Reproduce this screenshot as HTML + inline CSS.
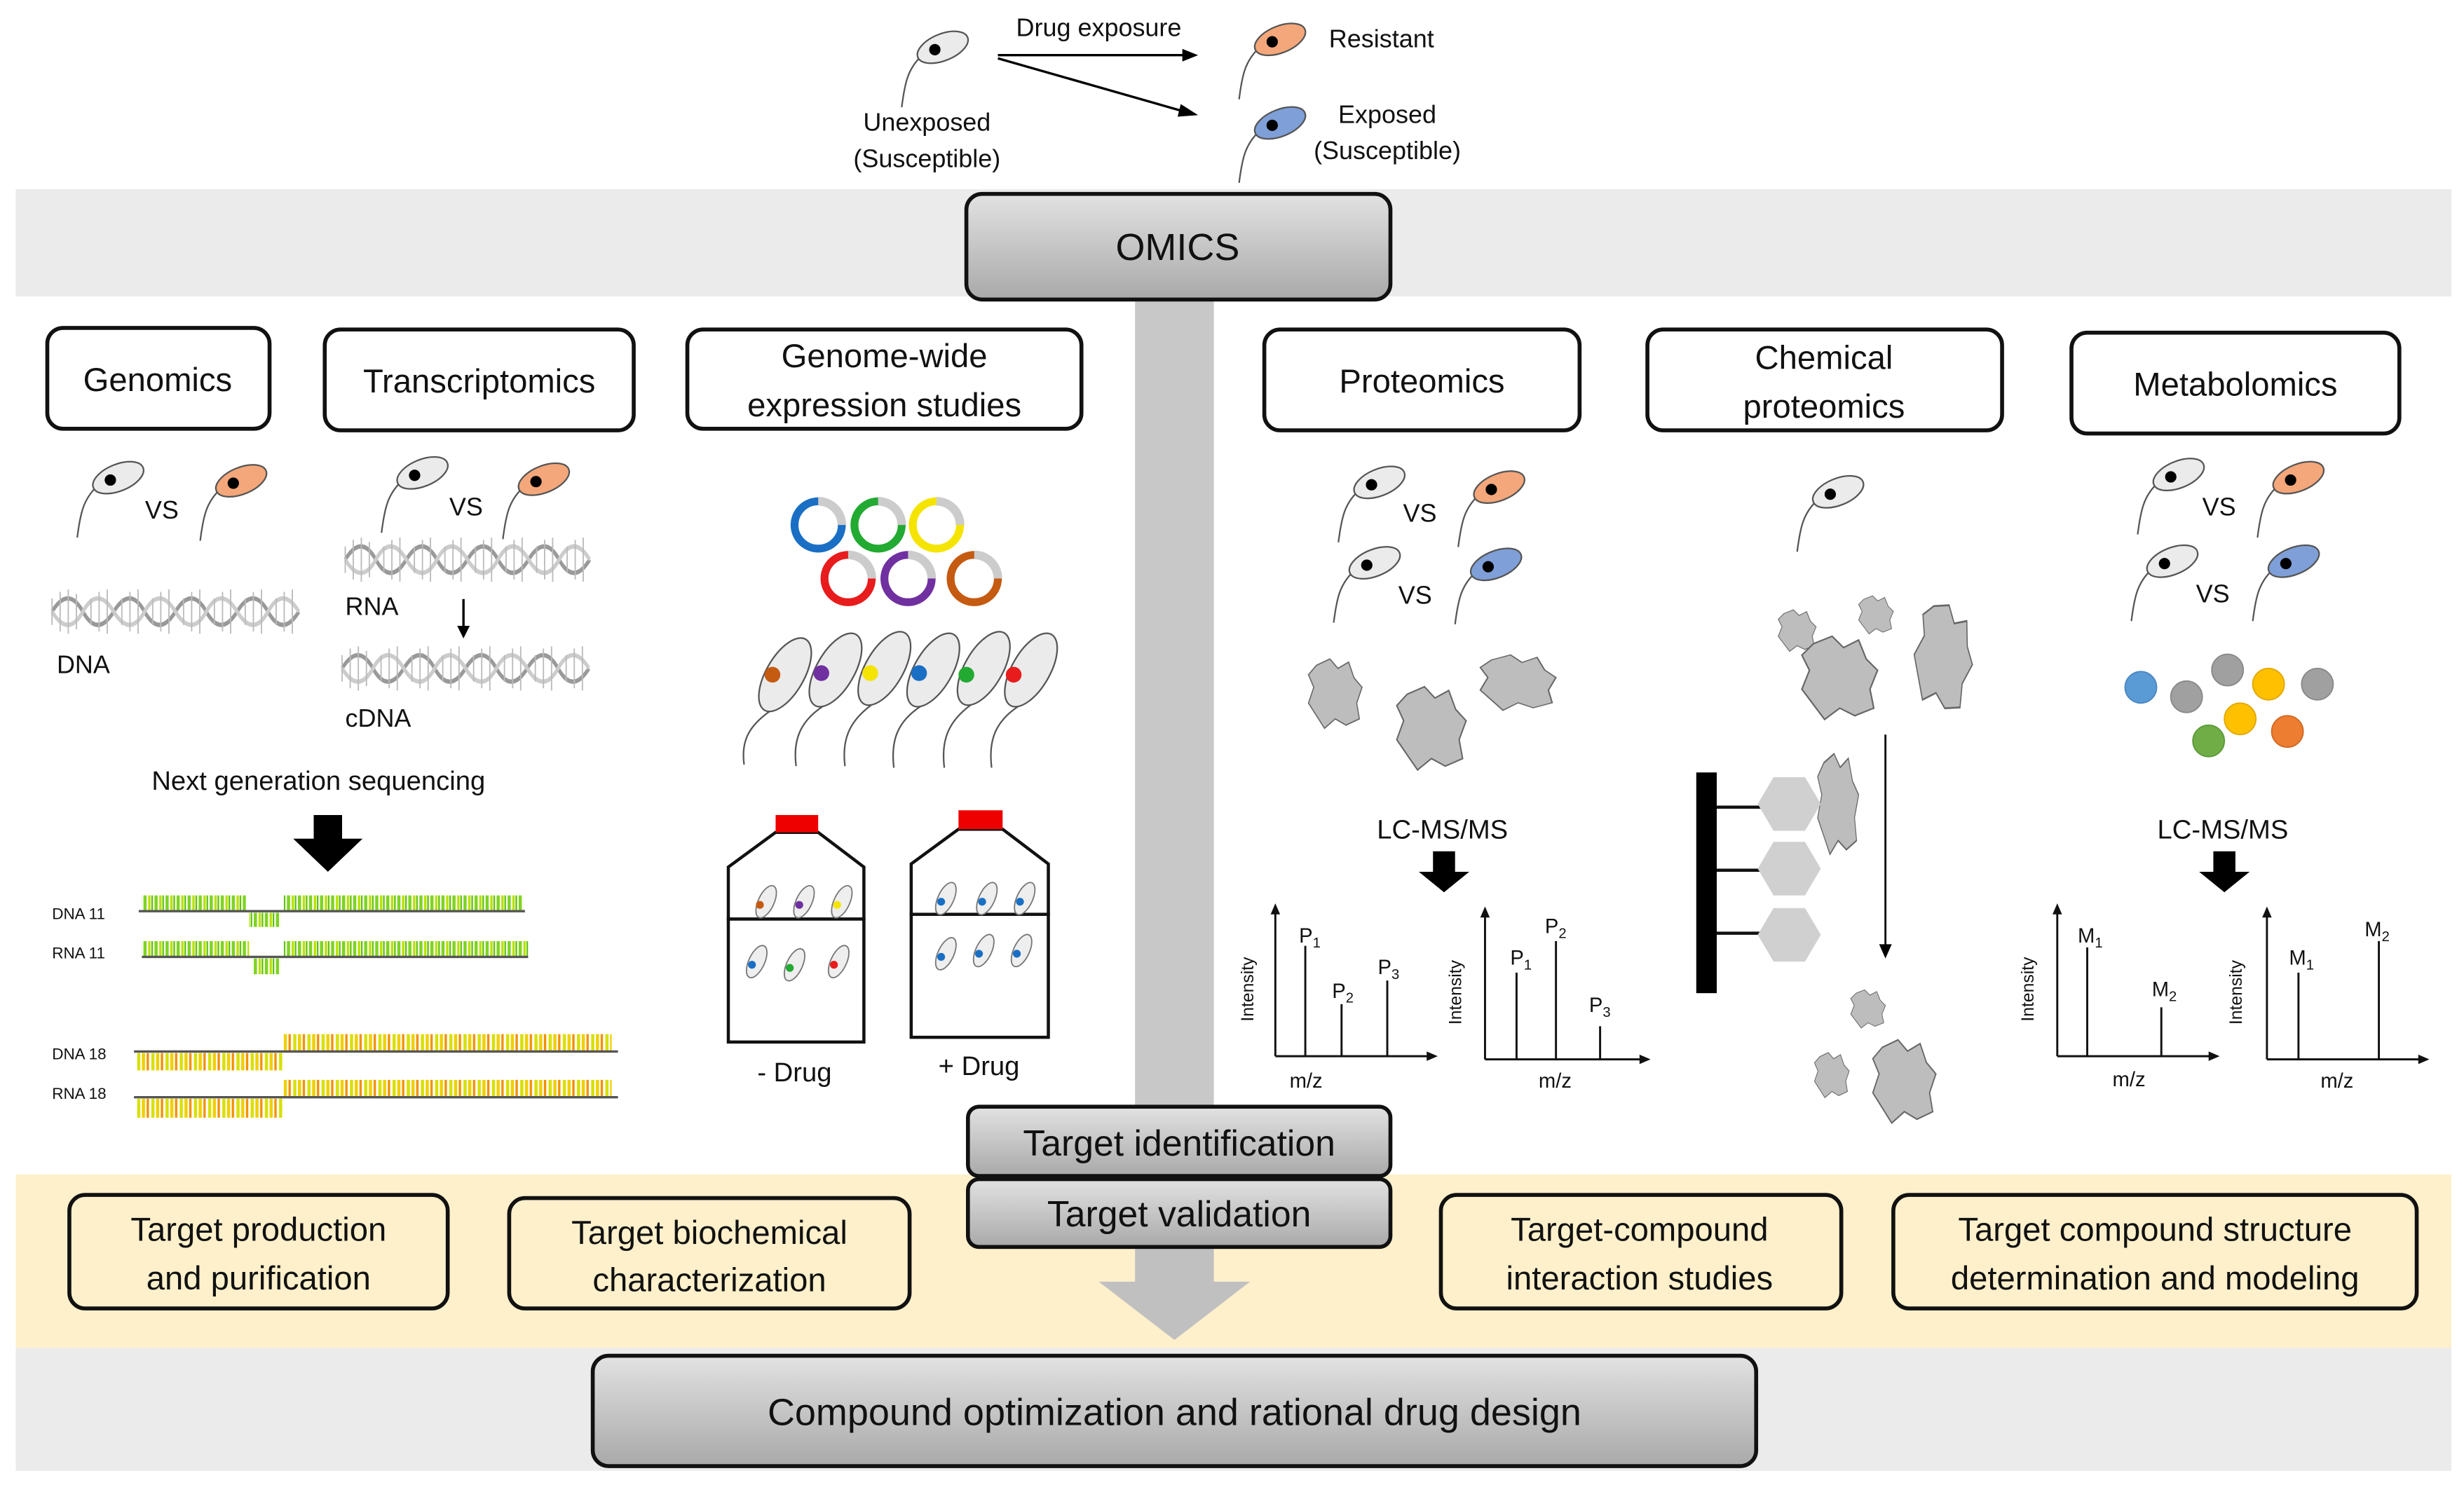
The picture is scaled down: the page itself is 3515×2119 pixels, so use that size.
<!DOCTYPE html>
<html><head><meta charset="utf-8"><style>html,body{margin:0;padding:0;background:#fff}svg{display:block}text{font-family:"Liberation Sans",sans-serif;fill:#111}</style></head>
<body>
<svg width="3515" height="2119" viewBox="0 0 1563 942" preserveAspectRatio="none" xmlns="http://www.w3.org/2000/svg">
<defs>
<linearGradient id="g" x1="0" y1="0" x2="0" y2="1"><stop offset="0" stop-color="#e2e2e2"/><stop offset="1" stop-color="#a9a9a9"/></linearGradient>
<g id="c"><path d="M-14,6 C-22,14 -24,22 -26,38" fill="none" stroke="#555" stroke-width="1"/><ellipse cx="0" cy="0" rx="17" ry="8.5" transform="rotate(-22)" stroke="#555" stroke-width="1"/><circle cx="-5" cy="1.5" r="3.6" fill="#000"/></g>
<g id="hel"><path d="M0,0 q10,-12 19,0 t19,0 t19,0 t19,0 t19,0 t19,0 t19,0 t19,0" fill="none" stroke="#999" stroke-width="2"/><path d="M0,0 q10,12 19,0 t19,0 t19,0 t19,0 t19,0 t19,0 t19,0 t19,0" fill="none" stroke="#ccc" stroke-width="2"/><path d="M0,-6 V6 M5,-9V9 M10,-10V10 M15,-8V8 M24,-6V6 M29,-9V9 M34,-10V10 M43,-6V6 M48,-9V9 M53,-10V10 M62,-6V6 M67,-9V9 M72,-10V10 M81,-6V6 M86,-9V9 M91,-10V10 M100,-6V6 M105,-9V9 M110,-10V10 M119,-6V6 M124,-9V9 M129,-10V10 M138,-6V6 M143,-9V9 M148,-10V10" stroke="#bbb" stroke-width="0.8"/></g>
<pattern id="gr" width="7" height="10" patternUnits="userSpaceOnUse"><rect width="7" height="10" fill="#fff"/><rect x="0" width="2" height="10" fill="#7ed321"/><rect x="3" width="1.5" height="10" fill="#b8e000"/><rect x="5" width="1" height="10" fill="#5cc000"/></pattern>
<pattern id="yl" width="9" height="10" patternUnits="userSpaceOnUse"><rect width="9" height="10" fill="#fff"/><rect x="0" width="2" height="10" fill="#f0d000"/><rect x="3" width="1.5" height="10" fill="#f29000"/><rect x="6" width="2" height="10" fill="#d8e000"/></pattern>
<path id="blob" d="M-14,-18 L-4,-22 L2,-16 L10,-20 L14,-10 L20,-4 L16,6 L18,16 L8,20 L0,16 L-8,22 L-14,14 L-20,6 L-16,-4 L-20,-12 Z"/>
</defs>

<rect x="10" y="120" width="1545" height="68" fill="#ebebeb"/>
<rect x="720" y="188" width="50" height="520" fill="#c8c8c8"/>
<rect x="10" y="745" width="1545" height="110" fill="#fdf0cb"/>
<rect x="10" y="855" width="1545" height="78" fill="#ebebeb"/>
<rect x="720" y="790" width="50" height="25" fill="#c0c0c0"/>
<path d="M697,813 L793,813 L745,850 Z" fill="#c0c0c0"/>

<use href="#c" x="598" y="30" fill="#ebebeb"/>
<use href="#c" x="812" y="25" fill="#f4a77a"/>
<use href="#c" x="812" y="78" fill="#7f9fd8"/>
<path d="M633,35 L752,35 M633,37 L752,71" stroke="#000" stroke-width="1.5"/>
<path d="M760,35 L750,31 L750,39Z M760,73 L749,66 L747,74Z"/>
<text x="697" y="23" font-size="16" text-anchor="middle">Drug exposure</text>
<text x="843" y="30" font-size="16">Resistant</text>
<text x="880" y="78" font-size="16" text-anchor="middle">Exposed</text>
<text x="880" y="101" font-size="16" text-anchor="middle">(Susceptible)</text>
<text x="588" y="83" font-size="16" text-anchor="middle">Unexposed</text>
<text x="588" y="106" font-size="16" text-anchor="middle">(Susceptible)</text>

<rect x="613" y="123" width="269" height="67" rx="10" fill="url(#g)" stroke="#111" stroke-width="2.5"/>
<text x="747" y="165" font-size="24" text-anchor="middle">OMICS</text>

<g fill="#fff" stroke="#111" stroke-width="2.5">
<rect x="30" y="208" width="141" height="64" rx="10"/>
<rect x="206" y="209" width="196" height="64" rx="10"/>
<rect x="436" y="209" width="250" height="63" rx="10"/>
<rect x="802" y="209" width="200" height="64" rx="10"/>
<rect x="1045" y="209" width="225" height="64" rx="10"/>
<rect x="1314" y="211" width="208" height="64" rx="10"/>
</g>
<g font-size="21" text-anchor="middle">
<text x="100" y="248">Genomics</text>
<text x="304" y="249">Transcriptomics</text>
<text x="561" y="233">Genome-wide</text>
<text x="561" y="264">expression studies</text>
<text x="902" y="249">Proteomics</text>
<text x="1157" y="234">Chemical</text>
<text x="1157" y="265">proteomics</text>
<text x="1418" y="251">Metabolomics</text>
</g>

<use href="#c" x="75" y="303" fill="#ebebeb"/><use href="#c" x="153" y="305" fill="#f4a77a"/>
<text x="92" y="329" font-size="16">VS</text>
<use href="#c" x="268" y="300" fill="#ebebeb"/><use href="#c" x="345" y="304" fill="#f4a77a"/>
<text x="285" y="327" font-size="16">VS</text>
<use href="#hel" transform="translate(33,388) scale(1.03,1.4)"/>
<text x="36" y="427" font-size="16">DNA</text>
<use href="#hel" transform="translate(219,355) scale(1.02,1.4)"/>
<text x="219" y="390" font-size="16">RNA</text>
<path d="M294,380 V398" stroke="#000" stroke-width="1.5"/><path d="M290,397 L298,397 L294,405Z"/>
<use href="#hel" transform="translate(217,424) scale(1.03,1.4)"/>
<text x="219" y="461" font-size="16">cDNA</text>
<text x="202" y="501" font-size="17" text-anchor="middle">Next generation sequencing</text>
<path d="M199,517 H217 V532 H230 L208,553 L186,532 H199Z"/>

<g font-size="10" fill="#333">
<text x="33" y="583">DNA 11</text><text x="33" y="608">RNA 11</text>
<text x="33" y="672">DNA 18</text><text x="33" y="697">RNA 18</text>
</g>
<rect x="90" y="568" width="66" height="10" fill="url(#gr)"/><rect x="180" y="568" width="152" height="10" fill="url(#gr)"/><rect x="158" y="579" width="20" height="9" fill="url(#gr)"/>
<rect x="90" y="597" width="68" height="10" fill="url(#gr)"/><rect x="180" y="597" width="155" height="10" fill="url(#gr)"/><rect x="160" y="608" width="18" height="10" fill="url(#gr)"/>
<path d="M88,578 H333 M90,607 H335" stroke="#555" stroke-width="1.5"/>
<rect x="180" y="656" width="208" height="11" fill="url(#yl)"/><rect x="87" y="668" width="93" height="11" fill="url(#yl)"/>
<rect x="180" y="685" width="208" height="11" fill="url(#yl)"/><rect x="87" y="697" width="93" height="12" fill="url(#yl)"/>
<path d="M85,667 H392 M85,696 H392" stroke="#555" stroke-width="1.5"/>

<g fill="none" stroke-width="5">
<circle cx="519" cy="333" r="15" stroke="#1a6fc4"/><circle cx="557" cy="333" r="15" stroke="#22aa33"/><circle cx="594" cy="333" r="15" stroke="#f5e400"/>
<circle cx="538" cy="367" r="15" stroke="#e81c1c"/><circle cx="576" cy="367" r="15" stroke="#7030a0"/><circle cx="618" cy="367" r="15" stroke="#c55a11"/>
</g>
<g fill="none" stroke="#ccc" stroke-width="5.5">
<path d="M519,318 A15,15 0 0 1 534,333"/><path d="M557,318 A15,15 0 0 1 572,333"/><path d="M594,318 A15,15 0 0 1 609,333"/>
<path d="M538,352 A15,15 0 0 1 553,367"/><path d="M576,352 A15,15 0 0 1 591,367"/><path d="M618,352 A15,15 0 0 1 633,367"/>
</g>
<g stroke="#555" stroke-width="1" fill="none">
<path d="M490,450 C475,460 470,470 472,485"/><path d="M522,448 C507,458 503,470 505,486"/><path d="M553,447 C538,458 534,470 536,486"/><path d="M584,448 C569,458 565,470 567,487"/><path d="M616,447 C601,458 597,470 599,487"/><path d="M646,448 C631,458 627,470 629,487"/>
</g>
<g fill="#ebebeb" stroke="#555" stroke-width="1">
<ellipse cx="498" cy="428" rx="12" ry="26" transform="rotate(30 498 428)"/><ellipse cx="530" cy="425" rx="12" ry="26" transform="rotate(30 530 425)"/><ellipse cx="561" cy="424" rx="12" ry="26" transform="rotate(30 561 424)"/><ellipse cx="592" cy="425" rx="12" ry="26" transform="rotate(30 592 425)"/><ellipse cx="624" cy="424" rx="12" ry="26" transform="rotate(30 624 424)"/><ellipse cx="654" cy="425" rx="12" ry="26" transform="rotate(30 654 425)"/>
</g>
<circle cx="490" cy="428" r="5" fill="#c55a11"/><circle cx="521" cy="427" r="5" fill="#7030a0"/><circle cx="552" cy="427" r="5" fill="#f5e400"/><circle cx="583" cy="427" r="5" fill="#1a6fc4"/><circle cx="613" cy="428" r="5" fill="#22aa33"/><circle cx="643" cy="428" r="5" fill="#e81c1c"/>

<g fill="#fff" stroke="#111" stroke-width="2">
<path d="M492,528 H519 L548,550 V583 H462 V550 Z"/><rect x="462" y="583" width="86" height="78"/>
<path d="M608,526 H636 L665,548 V580 H578 V548 Z"/><rect x="578" y="580" width="87" height="78"/>
</g>
<rect x="492" y="517" width="27" height="11" fill="#e00"/><rect x="608" y="514" width="28" height="12" fill="#e00"/>
<g fill="#eee" stroke="#777" stroke-width="0.8">
<ellipse cx="486" cy="572" rx="5" ry="11" transform="rotate(25 486 572)"/><ellipse cx="510" cy="572" rx="5" ry="11" transform="rotate(25 510 572)"/><ellipse cx="534" cy="572" rx="5" ry="11" transform="rotate(25 534 572)"/>
<ellipse cx="480" cy="610" rx="5" ry="11" transform="rotate(25 480 610)"/><ellipse cx="504" cy="612" rx="5" ry="11" transform="rotate(25 504 612)"/><ellipse cx="532" cy="610" rx="5" ry="11" transform="rotate(25 532 610)"/>
<ellipse cx="600" cy="570" rx="5" ry="11" transform="rotate(25 600 570)"/><ellipse cx="626" cy="570" rx="5" ry="11" transform="rotate(25 626 570)"/><ellipse cx="650" cy="570" rx="5" ry="11" transform="rotate(25 650 570)"/>
<ellipse cx="600" cy="605" rx="5" ry="11" transform="rotate(25 600 605)"/><ellipse cx="624" cy="603" rx="5" ry="11" transform="rotate(25 624 603)"/><ellipse cx="648" cy="603" rx="5" ry="11" transform="rotate(25 648 603)"/>
</g>
<circle cx="482" cy="574" r="2.5" fill="#c55a11"/><circle cx="507" cy="574" r="2.5" fill="#7030a0"/><circle cx="531" cy="574" r="2.5" fill="#f5e400"/>
<circle cx="477" cy="612" r="2.5" fill="#1a6fc4"/><circle cx="501" cy="614" r="2.5" fill="#22aa33"/><circle cx="529" cy="612" r="2.5" fill="#e81c1c"/>
<circle cx="597" cy="572" r="2.5" fill="#1a6fc4"/><circle cx="623" cy="572" r="2.5" fill="#1a6fc4"/><circle cx="647" cy="572" r="2.5" fill="#1a6fc4"/>
<circle cx="597" cy="607" r="2.5" fill="#1a6fc4"/><circle cx="621" cy="605" r="2.5" fill="#1a6fc4"/><circle cx="645" cy="605" r="2.5" fill="#1a6fc4"/>
<text x="504" y="686" font-size="17" text-anchor="middle">- Drug</text>
<text x="621" y="682" font-size="17" text-anchor="middle">+ Drug</text>

<use href="#c" x="875" y="306" fill="#ebebeb"/><use href="#c" x="951" y="309" fill="#f4a77a"/>
<text x="890" y="331" font-size="16">VS</text>
<use href="#c" x="872" y="357" fill="#ebebeb"/><use href="#c" x="949" y="358" fill="#7f9fd8"/>
<text x="887" y="383" font-size="16">VS</text>
<g fill="#bdbdbd" stroke="#666" stroke-width="0.8">
<use href="#blob" transform="translate(847,440) scale(0.85,1)"/>
<use href="#blob" transform="translate(908,462) scale(1.1,1.2)"/>
<use href="#blob" transform="translate(963,433) scale(1.2,0.8)"/>
<use href="#blob" transform="translate(1140,400) scale(0.6)"/>
<use href="#blob" transform="translate(1190,390) scale(0.55)"/>
<use href="#blob" transform="translate(1167,430) scale(1.2,1.2)"/>
<use href="#blob" transform="translate(1233,417) scale(0.9,1.5) rotate(20)"/>
<use href="#blob" transform="translate(1166,510) scale(0.65,1.45)"/>
<use href="#blob" transform="translate(1185,640) scale(0.55)"/>
<use href="#blob" transform="translate(1162,682) scale(0.55,0.65)"/>
<use href="#blob" transform="translate(1208,686) scale(1,1.2)"/>
</g>
<text x="915" y="532" font-size="17" text-anchor="middle">LC-MS/MS</text>
<path d="M909,540 H923 V553 H932 L916,566 L900,553 H909Z"/>
<text x="1410" y="532" font-size="17" text-anchor="middle">LC-MS/MS</text>
<path d="M1404,540 H1418 V553 H1427 L1411,566 L1395,553 H1404Z"/>

<g stroke="#111" stroke-width="1.3" fill="none">
<path d="M809,670 V578 M809,670 H907 M828,670 V600 M851,670 V637 M880,670 V622"/>
<path d="M942,672 V580 M942,672 H1042 M962,672 V617 M987,672 V597 M1015,672 V651"/>
<path d="M1305,670 V578 M1305,670 H1403 M1324,670 V601 M1371,670 V639"/>
<path d="M1438,672 V580 M1438,672 H1536 M1458,672 V617 M1509,672 V597"/>
</g>
<g fill="#111"><path d="M809,573 l-3,7 h6z M912,670 l-7,-3 v6z M942,575 l-3,7 h6z M1047,672 l-7,-3 v6z M1305,573 l-3,7 h6z M1408,670 l-7,-3 v6z M1438,575 l-3,7 h6z M1541,672 l-7,-3 v6z"/></g>
<g font-size="13">
<text x="824" y="598">P<tspan font-size="9" dy="3">1</tspan></text><text x="845" y="633">P<tspan font-size="9" dy="3">2</tspan></text><text x="874" y="618">P<tspan font-size="9" dy="3">3</tspan></text>
<text x="958" y="612">P<tspan font-size="9" dy="3">1</tspan></text><text x="980" y="592">P<tspan font-size="9" dy="3">2</tspan></text><text x="1008" y="642">P<tspan font-size="9" dy="3">3</tspan></text>
<text x="1318" y="598">M<tspan font-size="9" dy="3">1</tspan></text><text x="1365" y="632">M<tspan font-size="9" dy="3">2</tspan></text>
<text x="1452" y="612">M<tspan font-size="9" dy="3">1</tspan></text><text x="1500" y="594">M<tspan font-size="9" dy="3">2</tspan></text>
<text x="818" y="690">m/z</text><text x="976" y="690">m/z</text><text x="1340" y="689">m/z</text><text x="1472" y="690">m/z</text>
</g>
<g font-size="11">
<text transform="translate(795,648) rotate(-90)">Intensity</text><text transform="translate(927,650) rotate(-90)">Intensity</text>
<text transform="translate(1290,648) rotate(-90)">Intensity</text><text transform="translate(1422,650) rotate(-90)">Intensity</text>
</g>

<use href="#c" x="1166" y="312" fill="#ebebeb"/>
<rect x="1076" y="490" width="13" height="140" fill="#000"/>
<path d="M1089,512 H1118 M1089,552 H1118 M1089,592 H1118" stroke="#111" stroke-width="2"/>
<g fill="#d0d0d0"><path d="M1125,493 h20 l10,17 l-10,17 h-20 l-10,-17z"/><path d="M1125,534 h20 l10,17 l-10,17 h-20 l-10,-17z"/><path d="M1125,576 h20 l10,17 l-10,17 h-20 l-10,-17z"/></g>
<path d="M1196,466 V600" stroke="#111" stroke-width="1.3"/><path d="M1192,599 h8 l-4,9z"/>

<use href="#c" x="1382" y="301" fill="#ebebeb"/><use href="#c" x="1458" y="303" fill="#f4a77a"/>
<text x="1397" y="327" font-size="16">VS</text>
<use href="#c" x="1378" y="356" fill="#ebebeb"/><use href="#c" x="1455" y="356" fill="#7f9fd8"/>
<text x="1393" y="382" font-size="16">VS</text>
<g stroke-width="0.8">
<circle cx="1358" cy="436" r="10" fill="#5b9bd5" stroke="#4a86c0"/><circle cx="1387" cy="442" r="10" fill="#a0a0a0" stroke="#888"/><circle cx="1413" cy="425" r="10" fill="#a0a0a0" stroke="#888"/><circle cx="1439" cy="434" r="10" fill="#ffc000" stroke="#e0a800"/><circle cx="1470" cy="434" r="10" fill="#a0a0a0" stroke="#888"/><circle cx="1421" cy="456" r="10" fill="#ffc000" stroke="#e0a800"/><circle cx="1401" cy="470" r="10" fill="#70ad47" stroke="#5a9a38"/><circle cx="1451" cy="464" r="10" fill="#ed7d31" stroke="#d06820"/>
</g>

<g fill="url(#g)" stroke="#111" stroke-width="2.5">
<rect x="614" y="702" width="268" height="44" rx="7"/>
<rect x="614" y="748" width="268" height="43" rx="7"/>
<rect x="376" y="860" width="738" height="70" rx="10"/>
</g>
<text x="748" y="733" font-size="23" text-anchor="middle">Target identification</text>
<text x="748" y="778" font-size="23" text-anchor="middle">Target validation</text>
<text x="745" y="904" font-size="24" text-anchor="middle">Compound optimization and rational drug design</text>

<g fill="#fdf0cb" stroke="#111" stroke-width="2.5">
<rect x="44" y="758" width="240" height="72" rx="10"/>
<rect x="323" y="760" width="254" height="70" rx="10"/>
<rect x="914" y="758" width="254" height="72" rx="10"/>
<rect x="1201" y="758" width="332" height="72" rx="10"/>
</g>
<g font-size="21" text-anchor="middle">
<text x="164" y="787">Target production</text><text x="164" y="818">and purification</text>
<text x="450" y="789">Target biochemical</text><text x="450" y="819">characterization</text>
<text x="1040" y="787">Target-compound</text><text x="1040" y="818">interaction studies</text>
<text x="1367" y="787">Target compound structure</text><text x="1367" y="818">determination and modeling</text>
</g>
</svg>
</body></html>
